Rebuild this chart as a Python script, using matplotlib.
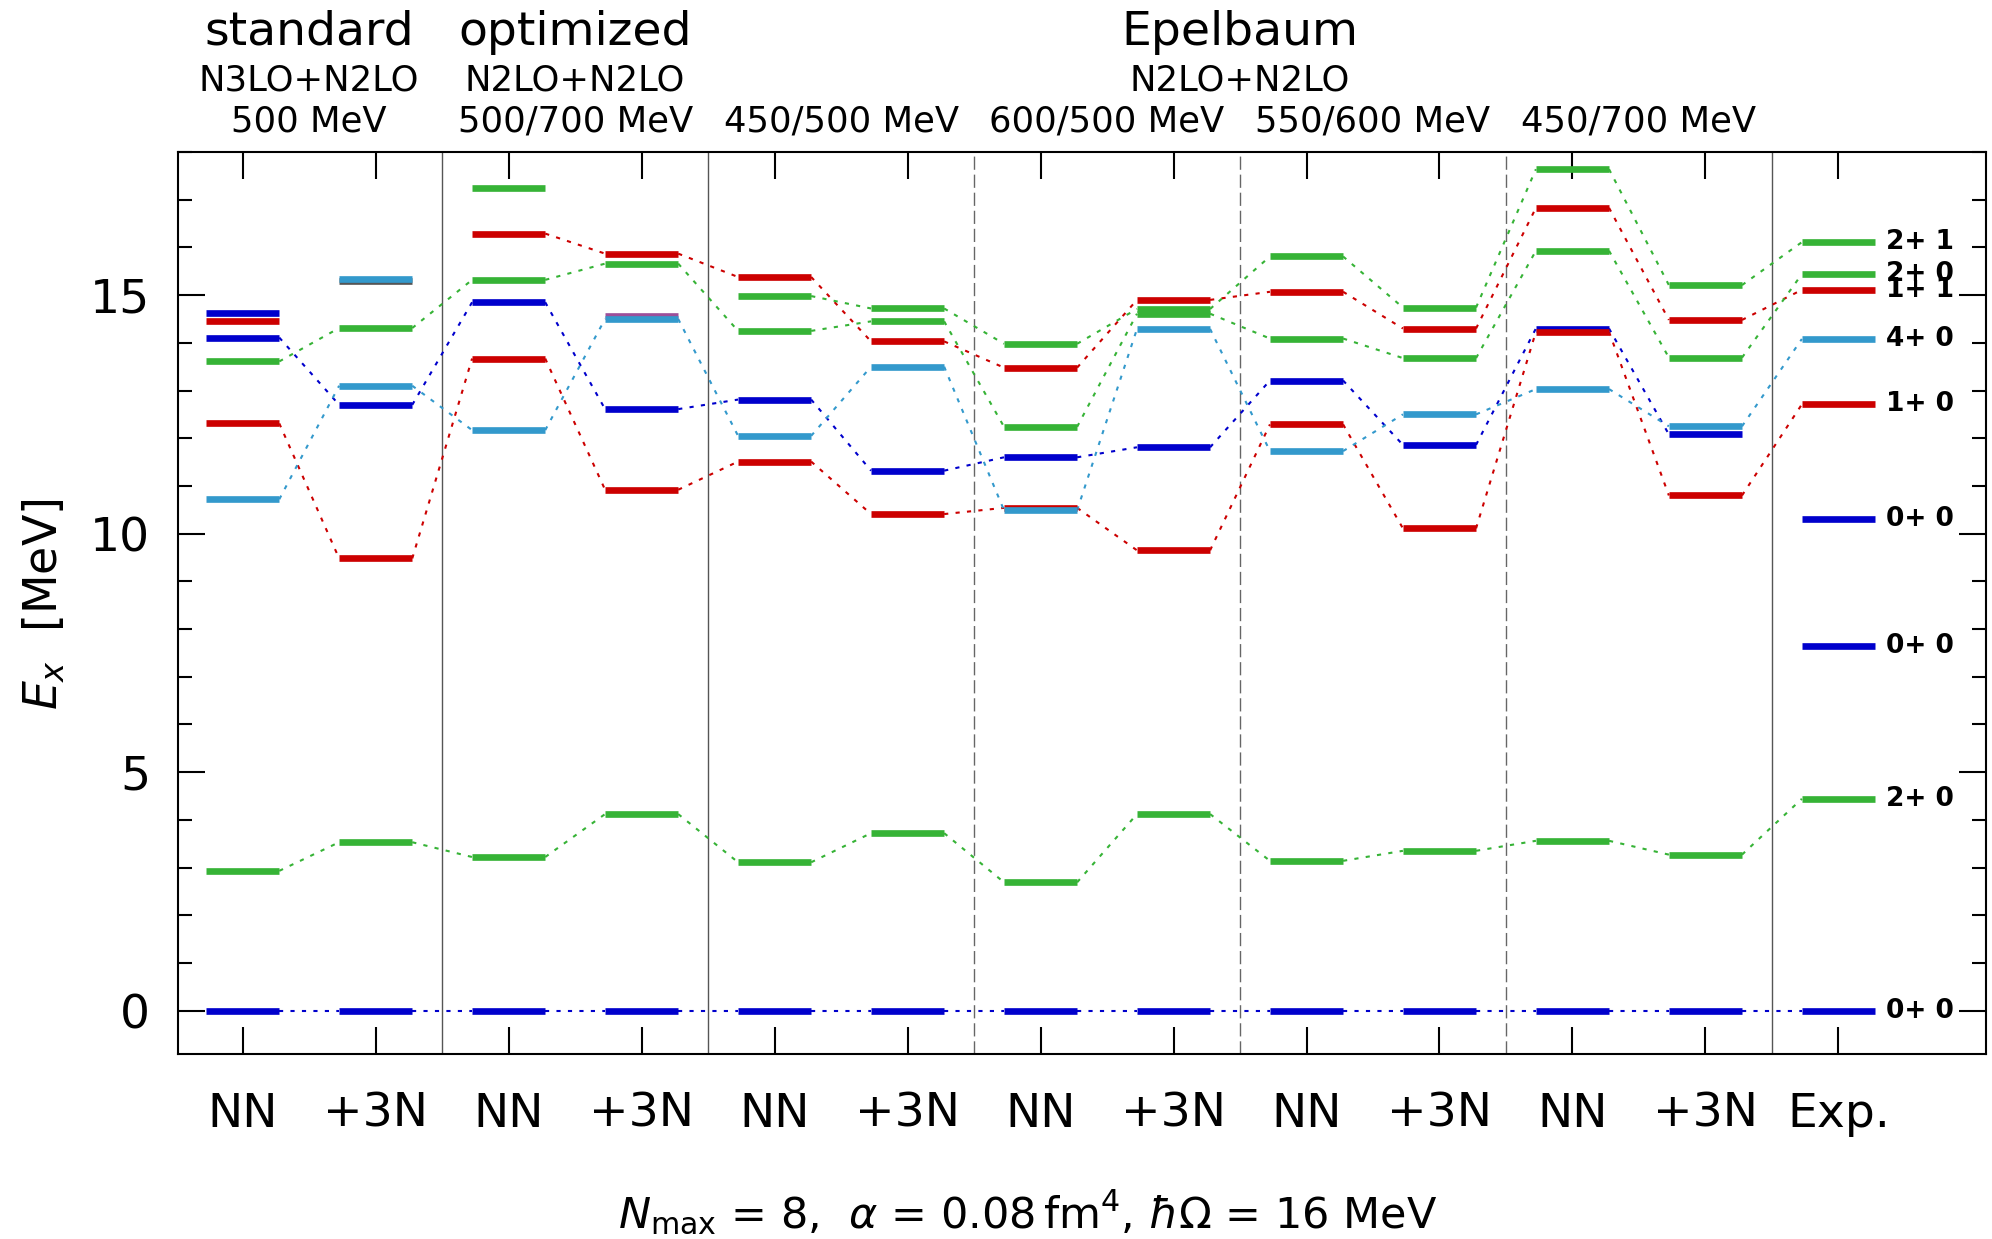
import matplotlib.pyplot as plt
from matplotlib.ticker import MultipleLocator

# column labels: NN / +3N pairs for each interaction, then experiment
col_labels = ['NN', '+3N', 'NN', '+3N', 'NN', '+3N', 'NN', '+3N',
              'NN', '+3N', 'NN', '+3N', 'Exp.']

# excitation energies (MeV) per column, None = no level in that column
gs_0p = [0.0, 0.0, 0.0, 0.0, 0.0, 0.0, 0.0, 0.0, 0.0, 0.0, 0.0, 0.0, 0.0]
low_2p = [2.93, 3.53, 3.22, 4.12, 3.11, 3.72, 2.69, 4.12, 3.14, 3.35, 3.56, 3.27, 4.44]
blue_a = [14.11, 12.70, 14.85, 12.61, 12.81, 11.32, 11.60, 11.81, 13.21, 11.86, 14.30, 12.08, None]
red_a = [None, None, 16.29, 15.87, 15.38, 14.03, 13.48, 14.90, 15.07, 14.30, 16.83, 14.48, 15.11]
red_b = [12.31, 9.48, 13.67, 10.92, 11.51, 10.41, 10.54, 9.65, 12.29, 10.11, 14.23, 10.80, 12.71]
green_a = [13.61, 14.31, 15.32, 15.66, 14.25, 14.45, 12.24, 14.61, 14.09, 13.68, 15.93, 13.69, 15.44]
green_b = [None, None, None, None, 14.98, 14.72, 13.98, 14.71, 15.81, 14.74, 17.64, 15.21, 16.11]
lblue_a = [10.72, 13.10, 12.17, 14.50, 12.05, 13.50, 10.49, 14.29, 11.73, 12.50, 13.03, 12.25, 14.08]

# levels without a partner in the neighbouring column
loose_col = [1, 3, 0, 12, 12, 0, 2, 1]
loose_val = [15.30, 14.57, 14.63, 7.65, 10.30, 14.46, 17.24, 15.33]
loose_kind = ['gray', 'purple', 'blue', 'blue', 'blue', 'red', 'green', 'lblue']

# experimental labels (J^pi T)
exp_levels = [0.0, 4.44, 7.65, 10.30, 12.71, 14.08, 15.11, 15.44, 16.11]
exp_labels = ['0+ 0', '2+ 0', '0+ 0', '0+ 0', '1+ 0', '4+ 0', '1+ 1', '2+ 0', '2+ 1']

groups = ['standard', 'optimized', 'Epelbaum']
group_x = [0.5, 2.5, 7.5]
orders = ['N3LO+N2LO', 'N2LO+N2LO', 'N2LO+N2LO']
cutoffs = ['500 MeV', '500/700 MeV', '450/500 MeV', '600/500 MeV', '550/600 MeV', '450/700 MeV']

colors = {'blue': '#0000cc', 'red': '#cc0000', 'green': '#36b336',
          'lblue': '#3399cc', 'purple': '#9c4f99', 'gray': '#555555'}
layer = {'gray': 0, 'purple': 0, 'blue': 1, 'red': 2, 'green': 3, 'lblue': 4}

fig = plt.figure(figsize=(19.92, 12.39), dpi=100)
ax = fig.add_axes([0.0894, 0.1493, 0.9076, 0.728])

half = 0.275
chains = [(gs_0p, 'blue'), (blue_a, 'blue'), (red_a, 'red'), (red_b, 'red'),
          (low_2p, 'green'), (green_a, 'green'), (green_b, 'green'), (lblue_a, 'lblue')]

for vals, kind in chains:
    c = colors[kind]
    for i, v in enumerate(vals):
        if v is None:
            continue
        ax.plot([i - half, i + half], [v, v], color=c, lw=4.8,
                solid_capstyle='butt', zorder=3 + 0.1 * layer[kind])
        if i + 1 < len(vals) and vals[i + 1] is not None:
            ax.plot([i + half, i + 1 - half], [v, vals[i + 1]], color=c, lw=1.5,
                    ls=(0, (2, 3.5)), zorder=2)

for i, v, kind in zip(loose_col, loose_val, loose_kind):
    ax.plot([i - half, i + half], [v, v], color=colors[kind], lw=4.8,
            solid_capstyle='butt', zorder=3 + 0.1 * layer[kind])

for v, lab in zip(exp_levels, exp_labels):
    ax.text(12.36, v, lab, fontsize=19, fontweight='bold', va='center', ha='left')

# separators between interaction groups
for xs in [1.5, 3.5, 11.5]:
    ax.axvline(xs, color='#555555', lw=1.0, zorder=1)
for xs in [5.5, 7.5, 9.5]:
    ax.axvline(xs, color='#666666', lw=1.0, ls=(0, (9.5, 3.5)), zorder=1)

ax.set_xlim(-0.486, 13.11)
ax.set_ylim(-0.91, 18.0)

ax.set_xticks(range(len(col_labels)))
ax.set_xticklabels(col_labels)
ax.yaxis.set_major_locator(MultipleLocator(5))
ax.yaxis.set_minor_locator(MultipleLocator(1))
ax.tick_params(axis='both', which='major', direction='in', length=19.5, width=1.5,
               labelsize=34, pad=20, top=True, right=True)
ax.tick_params(axis='x', which='major', pad=27)
ax.tick_params(axis='y', which='minor', direction='in', length=9.8, width=1.5, right=True)
for sp in ax.spines.values():
    sp.set_linewidth(1.5)

# header text above the axes
for g, gx in zip(groups, group_x):
    ax.text(gx, 20.25, g, fontsize=34, ha='center', va='baseline', clip_on=False)
for o, gx in zip(orders, group_x):
    ax.text(gx, 19.3, o, fontsize=25.5, ha='center', va='baseline', clip_on=False)
for k, cut in enumerate(cutoffs):
    ax.text(0.5 + 2 * k, 18.42, cut, fontsize=25.5, ha='center', va='baseline', clip_on=False)

fig.text(0.022, 0.512, r'$E_x$  [MeV]', rotation=90, fontsize=33, ha='center', va='center')
fig.text(0.516, 0.021, r'$N_{\mathrm{max}}$ = 8,  $\alpha$ = 0.08$\,$fm$^4$, $\hbar\Omega$ = 16 MeV',
         fontsize=31, ha='center', va='center')

fig.savefig('out.png', dpi=100)
